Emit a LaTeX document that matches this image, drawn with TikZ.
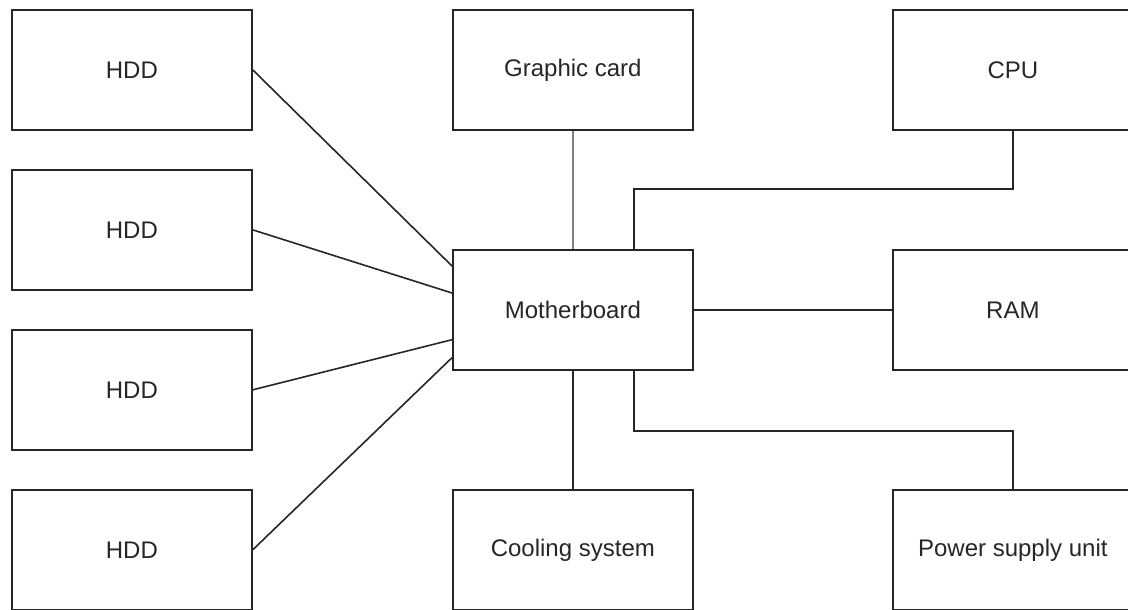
\documentclass[tikz,border=0pt]{standalone}
\usepackage{fontspec}
\setmainfont{Liberation Sans}
\begin{document}
\begin{tikzpicture}[x=1pt,y=-1pt,
  box/.style={draw=black!85,line width=1.7pt,minimum width=240pt,minimum height=120pt,inner sep=0pt,font=\fontsize{24}{28}\selectfont,text=black!85,anchor=north west},
  link/.style={draw=black!85,line width=1.6pt}]
\useasboundingbox (0,0) rectangle (1128,610);
\node[box] (h1) at (11,9) {HDD};
\node[box] (h2) at (11,169) {HDD};
\node[box] (h3) at (11,329) {HDD};
\node[box] (h4) at (11,489) {HDD};
\node[box] (gc) at (452,9) {Graphic card};
\node[box] (cpu) at (892,9) {CPU};
\node[box] (mb) at (452,249) {Motherboard};
\node[box] (ram) at (892,249) {RAM};
\node[box] (cool) at (452,489) {Cooling system};
\node[box] (psu) at (892,489) {Power supply unit};
\draw[link] (h1.east) -- ([yshift=-17pt]mb.north west);
\draw[link] (h2.east) -- ([yshift=-44pt]mb.north west);
\draw[link] (h3.east) -- ([yshift=31pt]mb.south west);
\draw[link] (h4.east) -- ([yshift=13pt]mb.south west);
\draw[link,draw=black!50] (gc.south) -- (mb.north);
\draw[link] ([xshift=-60pt]mb.north east) -- ++(0,-60) -| (cpu.south);
\draw[link] (mb.east) -- (ram.west);
\draw[link] (mb.south) -- (cool.north);
\draw[link] ([xshift=-60pt]mb.south east) -- ++(0,60) -| (psu.north);
\end{tikzpicture}
\end{document}
